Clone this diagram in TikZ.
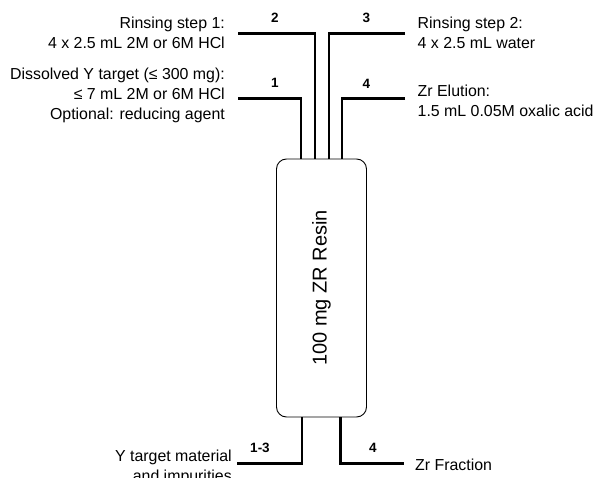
\documentclass[tikz,border=0pt]{standalone}
\usepackage{fontspec}
\setmainfont{Liberation Sans}
\usetikzlibrary{positioning}

\begin{document}
\begin{tikzpicture}[x=1pt,y=-1pt,
  tube/.style={line width=2.8pt},
  num/.style={font=\fontsize{13.5}{15}\selectfont\bfseries},
  lbl/.style={font=\fontsize{15.9}{19.8}\selectfont,inner sep=0pt}]
\useasboundingbox (0,0) rectangle (595,478);

% column
\node[draw,line width=0.9pt,rounded corners=10pt,minimum width=90pt,minimum height=258pt] (resin) at (321.5,288) {};
\node[rotate=90,font=\fontsize{20}{24}\selectfont] (resinlbl) at (resin.center) {100 mg ZR Resin};

% inlets
\coordinate (in1) at (238,98.3);
\coordinate (in2) at (238,33.3);
\coordinate (in3) at (405,33.3);
\coordinate (in4) at (405,98.3);
\draw[tube] (in1) -| ([xshift=-20.5pt]resin.north);
\draw[tube] (in2) -| ([xshift=-6.5pt]resin.north);
\draw[tube] (in3) -| ([xshift=7.5pt]resin.north);
\draw[tube] (in4) -| ([xshift=20.5pt]resin.north);

\node[num] (n1) at (275,82.5) {1};
\node[num] (n2) at (275,17.5) {2};
\node[num] (n3) at (366.5,17.5) {3};
\node[num] (n4) at (366.5,83.5) {4};

\node[lbl,anchor=east,align=right] (rinse1) at (225,32.5) {Rinsing step 1:\\4 x 2.5 mL 2M or 6M HCl};
\node[lbl,anchor=east,align=right] (load) at (225,95.5) {Dissolved Y target (≤ 300 mg):\\≤ 7 mL 2M or 6M HCl\\Optional: reducing agent};
\node[lbl,anchor=west,align=left] (rinse2) at (417.5,32.5) {Rinsing step 2:\\4 x 2.5 mL water};
\node[lbl,anchor=west,align=left] (elute) at (417.5,101) {Zr Elution:\\1.5 mL 0.05M oxalic acid};

% outlets
\coordinate (out1) at (236.5,463.3);
\coordinate (out2) at (404,463.3);
\draw[tube] ([xshift=-19.5pt]resin.south) |- (out1);
\draw[tube] ([xshift=19pt]resin.south) |- (out2);

\node[num] (n13) at (260,448) {1-3};
\node[num] (n4b) at (373,448) {4};

\node[lbl,anchor=east,align=right] (waste) at (232,467.5) {Y target material\\and impurities};
\node[lbl,anchor=west] (zrfrac) at (415,465) {Zr Fraction};
\end{tikzpicture}
\end{document}
